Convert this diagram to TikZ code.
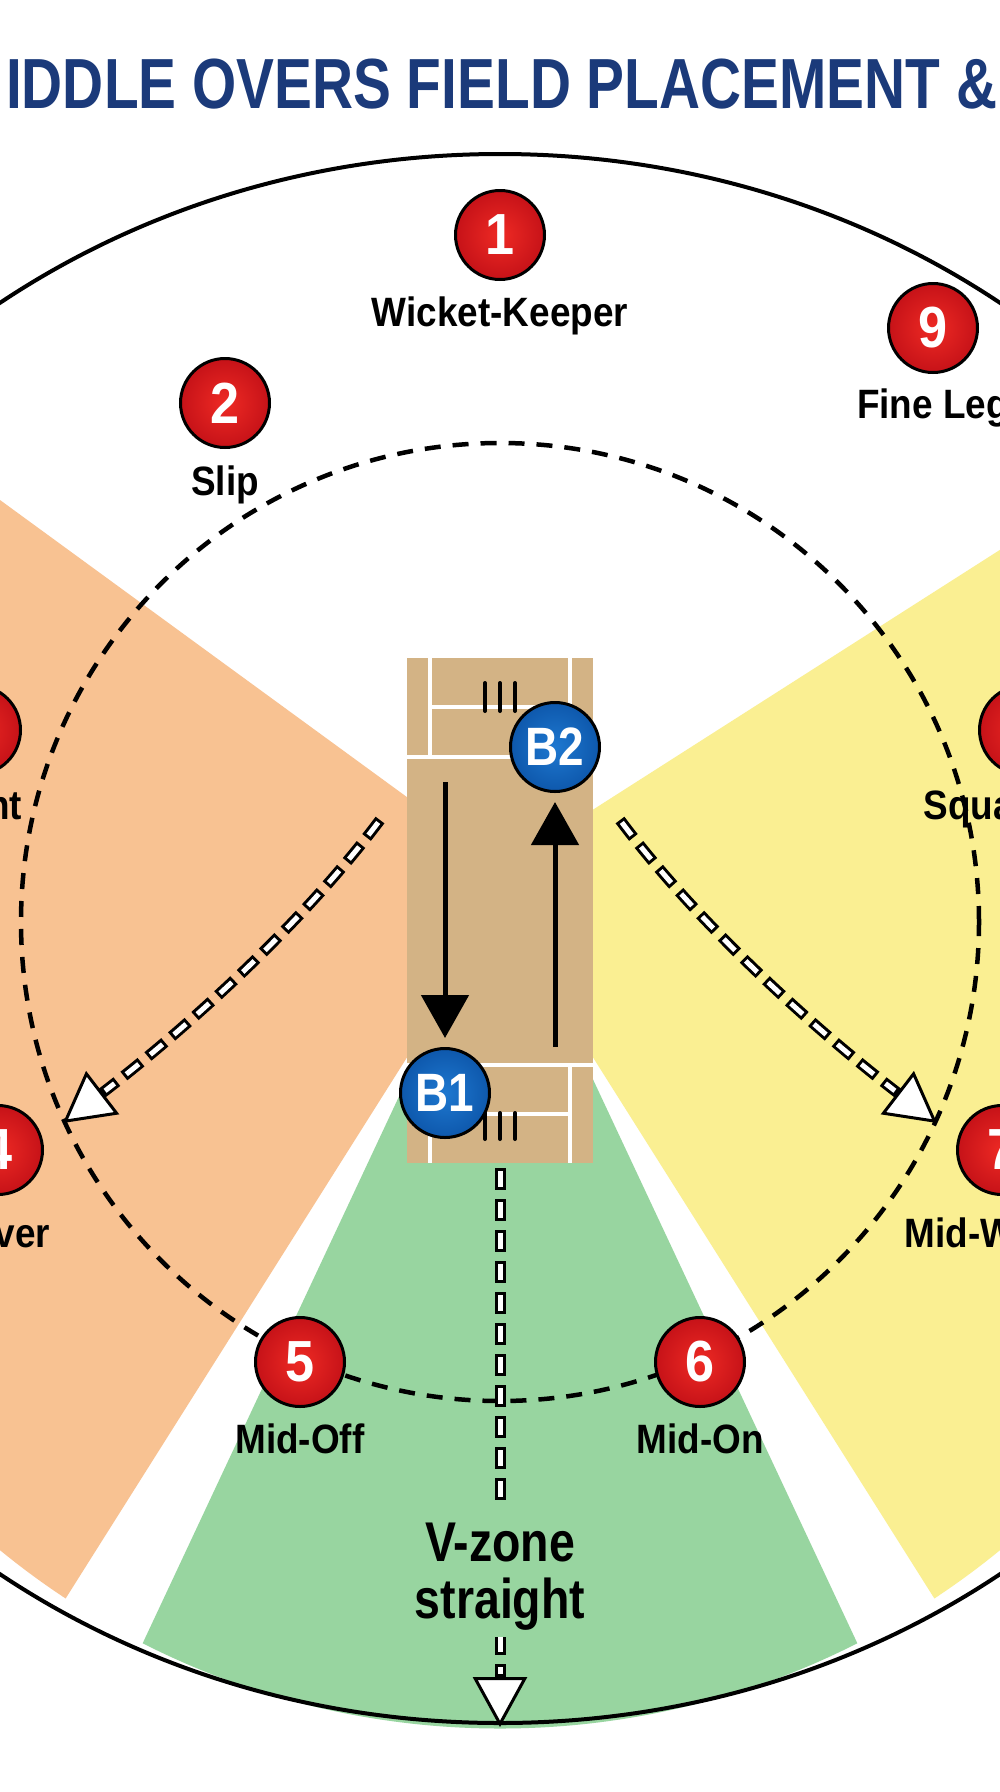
\documentclass[tikz,border=0pt]{standalone}
\usepackage{fontspec}
\setmainfont{Liberation Sans}
\newfontfamily\titlefont[FakeStretch=0.8]{Liberation Sans}
\newfontfamily\vzfont[FakeStretch=0.83]{Liberation Sans}
\newfontfamily\batfont[FakeStretch=0.85]{Liberation Sans}
\newfontfamily\numfont[FakeStretch=0.9]{Liberation Sans}
\newfontfamily\labfont[FakeStretch=0.9]{Liberation Sans}
\usetikzlibrary{arrows.meta}
\definecolor{titleblue}{RGB}{27,58,122}
\definecolor{orangez}{RGB}{248,194,146}
\definecolor{yellowz}{RGB}{250,239,146}
\definecolor{greenz}{RGB}{152,213,160}
\definecolor{pitchc}{RGB}{211,179,133}
\definecolor{redin}{RGB}{238,42,36}
\definecolor{redout}{RGB}{198,18,24}
\definecolor{bluein}{RGB}{30,120,208}
\definecolor{blueout}{RGB}{14,88,172}
\begin{document}
\begin{tikzpicture}[x=1pt,y=-1pt,
 every node/.style={inner sep=0pt},
 fielder/.style={circle,draw=black,line width=3pt,minimum size=89pt,inner color=redin,outer color=redout,text=white,font=\numfont\fontsize{58}{58}\selectfont\bfseries},
 batsman/.style={circle,draw=black,line width=3pt,minimum size=89pt,inner color=bluein,outer color=blueout,text=white,font=\batfont\fontsize{54}{54}\selectfont\bfseries},
 fname/.style={anchor=base,font=\labfont\fontsize{41}{44}\selectfont\bfseries,text=black},
 crease/.style={draw=white,line width=4pt},
 stump/.style={draw=black,line width=4pt,line cap=round},
 boundary/.style={draw=black,line width=4pt},
 ring/.style={draw=black,line width=4.5pt,dash pattern=on 16pt off 12pt},
 hollowout/.style={draw=black,line width=11pt,dash pattern=on 22pt off 9pt,-{Triangle[length=50pt,width=54pt,fill=white,line width=3pt]}},
 hollowin/.style={draw=white,line width=5pt,dash pattern=on 16pt off 15pt,dash phase=28pt,shorten >=53pt},
 batarrow/.style={draw=black,line width=5pt,-{Triangle[length=43pt,width=47pt]}},
 pitchbox/.style={rectangle,fill=pitchc,minimum width=186pt,minimum height=505pt},
 vzone/.style={align=center,font=\vzfont\fontsize{56}{57}\selectfont\bfseries,text=black}
]
\useasboundingbox (0,0) rectangle (1000,1792);
\clip (0,0) rectangle (1000,1792);
\fill[white] (0,0) rectangle (1000,1792);

% scoring zones
\begin{scope}
\clip (500,938.5) circle[radius=790pt];
\fill[orangez] (500,865) -- (-100,427) -- (-100,1861) -- (500,910) -- cycle;
\fill[yellowz] (500,869) -- (1100,486) -- (1100,1861) -- (500,910) -- cycle;
\fill[greenz] (500,881) -- (72,1794) -- (928,1794) -- cycle;
\end{scope}

% boundary and 30-yard ring
\draw[boundary] (500,938.5) ellipse [x radius=853pt, y radius=784.5pt];
\draw[ring] (500,922) circle[radius=479pt];

% pitch
\node[pitchbox] (pitch) at (500,910.5) {};
\draw[crease] (407,757) -- (593,757);
\draw[crease] (430,707) -- (570,707);
\draw[crease] (430,658) -- (430,757);
\draw[crease] (570,658) -- (570,757);
\draw[crease] (407,1065) -- (593,1065);
\draw[crease] (430,1114) -- (570,1114);
\draw[crease] (430,1065) -- (430,1163);
\draw[crease] (570,1065) -- (570,1163);
\draw[stump] (485,683) -- (485,711);
\draw[stump] (500,683) -- (500,711);
\draw[stump] (515,683) -- (515,711);
\draw[stump] (485,1113) -- (485,1139);
\draw[stump] (500,1113) -- (500,1139);
\draw[stump] (515,1113) -- (515,1139);

% hollow dashed shot arrows
\coordinate (la0) at (380,820);
\coordinate (la1) at (63,1123);
\coordinate (ra0) at (620,820);
\coordinate (ra1) at (937,1123);
\coordinate (vend) at (500,1727);
\draw[hollowout] (la0) .. controls (296,932) and (174,1038) .. (la1);
\draw[hollowin] (la0) .. controls (296,932) and (174,1038) .. (la1);
\draw[hollowout] (ra0) .. controls (704,932) and (826,1038) .. (ra1);
\draw[hollowin] (ra0) .. controls (704,932) and (826,1038) .. (ra1);
\draw[hollowout,shorten <=5pt] (pitch.south) -- (vend);
\draw[hollowin,shorten <=5pt] (pitch.south) -- (vend);
\fill[greenz] (486,1506) rectangle (514,1637);
\node[vzone] (vz) at (500,1577) {V-zone\\straight};

% fielders
\node[fielder] (f1) at (500,235) {1};
\node[fielder] (f2) at (225,403) {2};
\node[fielder] (f3) at (-24,730) {3};
\node[fielder] (f4) at (-2,1150) {4};
\node[fielder] (f5) at (300,1362) {5};
\node[fielder] (f6) at (700,1362) {6};
\node[fielder] (f7) at (1002,1150) {7};
\node[fielder] (f8) at (1024,730) {8};
\node[fielder] (f9) at (933,328) {9};
\node[fname] (l1) at (500,326) {Wicket-Keeper};
\node[fname] (l2) at (225,495) {Slip};
\node[fname] (l3) at (-24,819) {Point};
\node[fname] (l4) at (-2,1247) {Cover};
\node[fname] (l5) at (300,1453) {Mid-Off};
\node[fname] (l6) at (700,1453) {Mid-On};
\node[fname] (l7) at (1002,1247) {Mid-Wicket};
\node[fname] (l8) at (1024,819) {Square Leg};
\node[fname] (l9) at (933,418) {Fine Leg};

% batsmen
\node[batsman] (B1) at (445,1093) {B1};
\node[batsman] (B2) at (555,747) {B2};
\coordinate (bd0) at (445,782);
\coordinate (bu0) at (555,1047);
\draw[batarrow,shorten >=9pt] (bd0) -- (B1);
\draw[batarrow,shorten >=9pt] (bu0) -- (B2);

% title
\node[anchor=base west,font=\titlefont\fontsize{71}{71}\selectfont\bfseries,text=titleblue] (title) at (6,108) {IDDLE OVERS FIELD PLACEMENT \&};
\end{tikzpicture}
\end{document}
